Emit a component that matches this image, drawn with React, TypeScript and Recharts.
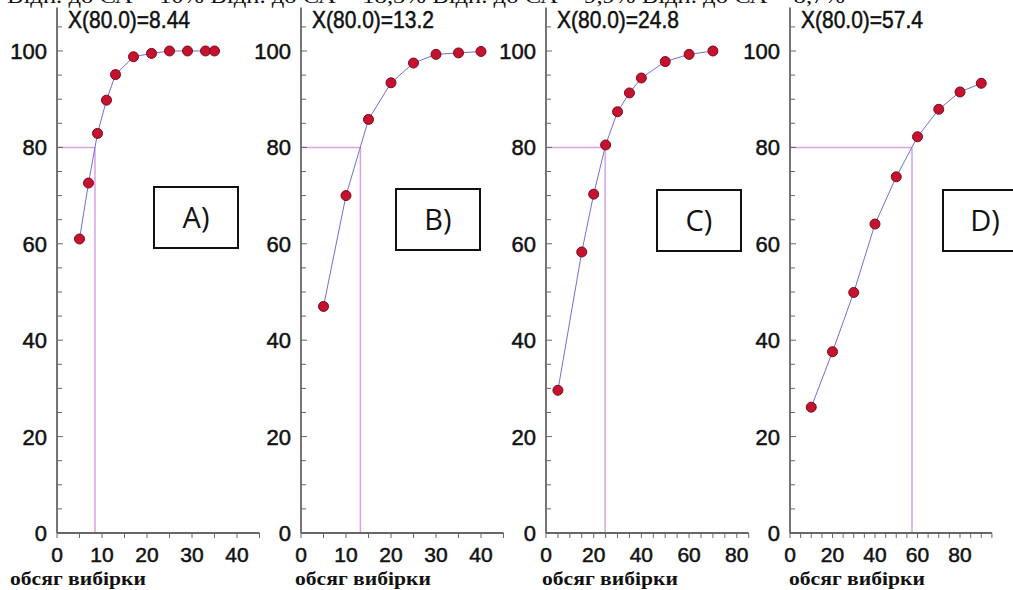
import { LineChart, Line, XAxis, YAxis, ReferenceLine } from 'recharts';

// values: sample size -> probability (%)
const topNote = 'Відн. до СА = 10% Відн. до СА = 18,3% Відн. до СА = 9,9% Відн. до СА = 8,7%';
const xTitle = 'обсяг вибірки';

const sizesA = [5, 7, 9, 11, 13, 17, 21, 25, 29, 33, 35];
const valuesA = [61, 72.6, 82.9, 89.8, 95.1, 98.8, 99.5, 100, 100, 100, 100];

const sizesB = [5, 10, 15, 20, 25, 30, 35, 40];
const valuesB = [47, 70, 85.8, 93.4, 97.5, 99.3, 99.6, 99.9];

const sizesC = [5, 15, 20, 25, 30, 35, 40, 50, 60, 70];
const valuesC = [29.6, 58.3, 70.3, 80.5, 87.4, 91.3, 94.4, 97.8, 99.3, 100];

const sizesD = [10, 20, 30, 40, 50, 60, 70, 80, 90];
const valuesD = [26.1, 37.6, 49.9, 64.1, 73.9, 82.2, 87.9, 91.5, 93.3];

const level = 80;
const x80 = [8.44, 13.2, 24.8, 57.4];
const headers = ['X(80.0)=8.44', 'X(80.0)=13.2', 'X(80.0)=24.8', 'X(80.0)=57.4'];
const panelNames = ['A)', 'B)', 'C)', 'D)'];
const xMax = [45, 45, 85, 95];
const xMajor = [10, 10, 20, 20];
const yMax = 109;

const allSizes = [sizesA, sizesB, sizesC, sizesD];
const allValues = [valuesA, valuesB, valuesC, valuesD];

// layout
const axisLeft = [57, 301, 546, 790];
const plotWidth = [202.5, 202.5, 202.7, 201.9];
const plotTop = 7.6;
const plotBottom = 533;
const yAxisW = 50;
const boxes = [
  { x: 154, y: 187 },
  { x: 396, y: 189 },
  { x: 657, y: 190 },
  { x: 943, y: 190 },
];
const titleX = [10, 295, 542, 789];

const axisColor = '#666';
const font = '"Liberation Sans", Arial, sans-serif';

function steps(max: number, step: number) {
  const out: number[] = [];
  for (let v = 0; v <= max; v += step) out.push(v);
  return out;
}

function YTick(props: any) {
  const { x, y, payload } = props;
  const v = payload.value;
  const major = v % 20 === 0;
  return (
    <g>
      <line x1={x} x2={x + (major ? 6 : 5)} y1={y} y2={y} stroke={axisColor} strokeWidth={1} />
      {major && (
        <text
          x={x - 10}
          y={y + 8}
          textAnchor="end"
          fontSize={22}
          fontFamily={font}
          fill="#111"
          stroke="#111"
          strokeWidth={0.5}
        >
          {v}
        </text>
      )}
    </g>
  );
}

function makeXTick(majorStep: number) {
  return function XTick(props: any) {
    const { x, y, payload } = props;
    const v = payload.value;
    const major = v % majorStep === 0;
    return (
      <g>
        <line x1={x} x2={x} y1={y} y2={y + 5} stroke={axisColor} strokeWidth={1} />
        {major && (
          <text
            x={x}
            y={y + 29}
            textAnchor="middle"
            fontSize={21}
            fontFamily={font}
            fill="#111"
            stroke="#111"
            strokeWidth={0.5}
          >
            {v}
          </text>
        )}
      </g>
    );
  };
}

function Panel({ i }: { i: number }) {
  const data = allSizes[i].map((n, k) => ({ n, p: allValues[i][k] }));
  const width = yAxisW + plotWidth[i] + 10;
  return (
    <div style={{ position: 'absolute', left: axisLeft[i] - yAxisW, top: 0 }}>
      <LineChart
        width={width}
        height={590}
        data={data}
        margin={{ top: plotTop, right: 10, bottom: 0, left: 0 }}
      >
        <XAxis
          type="number"
          dataKey="n"
          domain={[0, xMax[i]]}
          ticks={steps(xMax[i], 5)}
          interval={0}
          height={590 - plotBottom}
          tickSize={0}
          tickMargin={0}
          tickLine={false}
          axisLine={{ stroke: axisColor, strokeWidth: 1.8 }}
          tick={makeXTick(xMajor[i])}
          allowDataOverflow
        />
        <YAxis
          type="number"
          domain={[0, yMax]}
          ticks={steps(105, 5)}
          interval={0}
          width={yAxisW}
          tickSize={0}
          tickMargin={0}
          tickLine={false}
          axisLine={{ stroke: axisColor, strokeWidth: 1.8 }}
          tick={YTick}
          allowDataOverflow
        />
        <ReferenceLine
          segment={[{ x: 0, y: level }, { x: x80[i], y: level }]}
          stroke="#d9a2e3"
          strokeWidth={1.5}
        />
        <ReferenceLine
          segment={[{ x: x80[i], y: 0 }, { x: x80[i], y: level }]}
          stroke="#d9a2e3"
          strokeWidth={1.5}
        />
        <Line
          type="linear"
          dataKey="p"
          stroke="#6f6fd6"
          strokeWidth={1}
          dot={{ r: 5, fill: '#c4122f', stroke: '#7a0a1c', strokeWidth: 1 }}
          isAnimationActive={false}
        />
      </LineChart>
    </div>
  );
}

export default function App() {
  return (
    <div
      style={{
        position: 'absolute',
        left: 0,
        top: 0,
        width: 1013,
        height: 590,
        overflow: 'hidden',
        background: '#fff',
      }}
    >
      {[0, 1, 2, 3].map((i) => (
        <Panel key={i} i={i} />
      ))}
      <svg
        width={1013}
        height={590}
        style={{ position: 'absolute', left: 0, top: 0, pointerEvents: 'none' }}
      >
        <text
          x={7}
          y={3}
          fontSize={22}
          fontFamily='"Liberation Serif", serif'
          textLength={838}
          lengthAdjust="spacingAndGlyphs"
          fill="#111"
        >
          {topNote}
        </text>
        {headers.map((h, i) => (
          <text
            key={h}
            x={axisLeft[i] + 11}
            y={28}
            fontSize={24}
            fontFamily={font}
            textLength={122}
            lengthAdjust="spacingAndGlyphs"
            fill="#111"
            stroke="#111"
            strokeWidth={0.5}
          >
            {h}
          </text>
        ))}
        {boxes.map((b, i) => (
          <g key={i}>
            <rect x={b.x} y={b.y} width={84} height={61} fill="#fff" stroke="#111" strokeWidth={2} />
            <text
              x={b.x + 42}
              y={b.y + 41}
              textAnchor="middle"
              fontSize={29}
              fontFamily='"Open Sans", "Noto Sans", sans-serif'
              fill="#111"
            >
              {panelNames[i]}
            </text>
          </g>
        ))}
        {titleX.map((x, i) => (
          <text
            key={i}
            x={x}
            y={585}
            fontSize={19}
            fontWeight="bold"
            fontFamily='"Liberation Serif", "DejaVu Serif", serif'
            textLength={136}
            lengthAdjust="spacingAndGlyphs"
            fill="#111"
          >
            {xTitle}
          </text>
        ))}
      </svg>
    </div>
  );
}
